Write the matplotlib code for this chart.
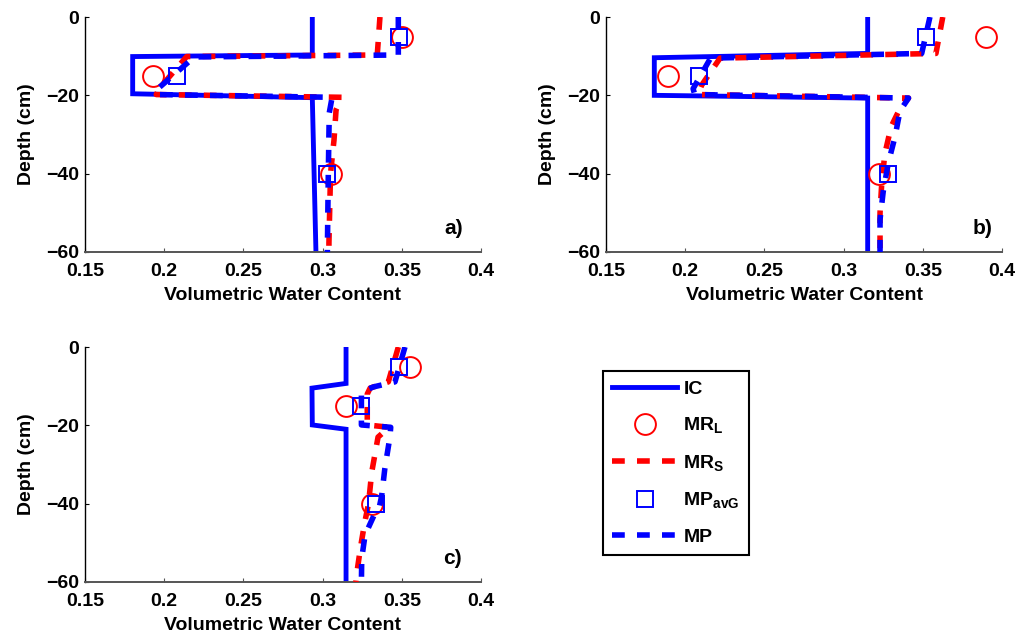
import matplotlib
matplotlib.use('Agg')
import matplotlib.pyplot as plt
from matplotlib.lines import Line2D

plt.rcParams['font.family'] = ['Liberation Sans', 'DejaVu Sans']
plt.rcParams['font.weight'] = 'bold'
plt.rcParams['mathtext.fontset'] = 'custom'
plt.rcParams['mathtext.rm'] = 'Liberation Sans:bold'
plt.rcParams['mathtext.bf'] = 'Liberation Sans:bold'
plt.rcParams['mathtext.it'] = 'Liberation Sans:bold'

# ---------------- data ----------------
marker_depth = [-5, -15, -40]

# panel a
ic_depth_a = [0, -9.7, -10.1, -19.6, -20.6, -60]
ic_a = [0.2935, 0.2935, 0.1801, 0.1801, 0.2935, 0.2958]
mrs_depth_a = [0, -8, -9.7, -10.1, -18.2, -19.8, -20.5, -23.7, -31.4, -40, -57.7, -60]
mrs_a = [0.3362, 0.3348, 0.3345, 0.2142, 0.197, 0.195, 0.312, 0.3085, 0.3072, 0.305, 0.304, 0.304]
mp_depth_a = [0, -9.7, -10.2, -18.2, -19.8, -20.5, -24.5, -40, -60]
mp_a = [0.3478, 0.3478, 0.219, 0.1963, 0.195, 0.306, 0.3042, 0.3036, 0.303]
mrl_a = [0.35, 0.1932, 0.305]
mpg_a = [0.348, 0.208, 0.303]

# panel b
ic_depth_b = [0, -9.3, -10.4, -20.0, -20.7, -60]
ic_b = [0.3152, 0.3152, 0.1805, 0.1805, 0.3152, 0.3152]
mrs_depth_b = [0, -9.3, -10.5, -17.4, -19.8, -20.7, -23, -28, -35, -43, -50, -60]
mrs_b = [0.3626, 0.3583, 0.222, 0.2104, 0.208, 0.341, 0.336, 0.330, 0.326, 0.324, 0.323, 0.323]
mp_depth_b = [0, -9.3, -10.5, -18.3, -19.8, -20.7, -24, -30.5, -37.3, -44.6, -51.7, -60]
mp_b = [0.3545, 0.3493, 0.216, 0.205, 0.206, 0.341, 0.3356, 0.3325, 0.3282, 0.325, 0.323, 0.323]
mrl_b = [0.39, 0.1893, 0.3225]
mpg_b = [0.352, 0.2087, 0.328]

# panel c
ic_depth_c = [0, -9.3, -10.5, -19.9, -21.0, -60]
ic_c = [0.3148, 0.3148, 0.2933, 0.2935, 0.3148, 0.3148]
mrs_depth_c = [0, -8.9, -10.5, -12, -19.9, -20.5, -23, -32, -40, -45, -51, -58, -60]
mrs_c = [0.3478, 0.3415, 0.330, 0.3282, 0.3282, 0.342, 0.335, 0.331, 0.329, 0.3265, 0.324, 0.3215, 0.321]
mp_depth_c = [0, -8.9, -10.2, -11.5, -19.9, -20.5, -23, -31, -38, -40.5, -42.5, -48, -54, -60]
mp_c = [0.352, 0.3457, 0.332, 0.3245, 0.3245, 0.343, 0.3425, 0.3393, 0.3373, 0.336, 0.333, 0.3268, 0.3247, 0.3245]
mrl_c = [0.355, 0.315, 0.331]
mpg_c = [0.348, 0.324, 0.3337]

x_ticks = [0.15, 0.2, 0.25, 0.3, 0.35, 0.4]
x_ticklabels = ['0.15', '0.2', '0.25', '0.3', '0.35', '0.4']
y_ticks = [-60, -40, -20, 0]
y_ticklabels = ['\u221260', '\u221240', '\u221220', '0']
series_labels = ['IC', r'MR$_{\mathrm{L}}$', r'MR$_{\mathrm{S}}$', r'MP$_{\mathrm{avG}}$', 'MP']
panel_labels = ['a)', 'b)', 'c)']

BLUE = '#0000ff'
RED = '#ff0000'
FS = 14
DASH = (2.3, 2.2)

fig = plt.figure(figsize=(10.29, 6.39), dpi=100)
W, H = 1029, 639

def add_ax(left, top, right, bottom):
    return fig.add_axes([left / W, 1 - bottom / H, (right - left) / W, (bottom - top) / H])

ax_a = add_ax(85, 17, 481, 252)
ax_b = add_ax(606, 17, 1002, 252)
ax_c = add_ax(85, 347, 481, 582)

panels = [
    (ax_a, ic_a, ic_depth_a, mrs_a, mrs_depth_a, mp_a, mp_depth_a, mrl_a, mpg_a, (0.932, 0.10)),
    (ax_b, ic_b, ic_depth_b, mrs_b, mrs_depth_b, mp_b, mp_depth_b, mrl_b, mpg_b, (0.951, 0.10)),
    (ax_c, ic_c, ic_depth_c, mrs_c, mrs_depth_c, mp_c, mp_depth_c, mrl_c, mpg_c, (0.929, 0.10)),
]

for (ax, ic, icd, mrs, mrsd, mp, mpd, mrl, mpg, lp), plab in zip(panels, panel_labels):
    ax.plot(ic, icd, color=BLUE, lw=3.5, solid_joinstyle='miter', zorder=2)
    ax.plot(mrl, marker_depth, linestyle='none', marker='o', ms=15, mfc='none',
            mec=RED, mew=1.4, zorder=3)
    ax.plot(mrs, mrsd, color=RED, lw=4, dashes=DASH, zorder=4)
    ax.plot(mpg, marker_depth, linestyle='none', marker='s', ms=12, mfc='none',
            mec=BLUE, mew=1.4, zorder=5)
    ax.plot(mp, mpd, color=BLUE, lw=4, dashes=DASH, zorder=6)

    ax.set_xlim(0.15, 0.4)
    ax.set_ylim(-60, 0)
    ax.set_xticks(x_ticks)
    ax.set_xticklabels(x_ticklabels)
    ax.set_yticks(y_ticks)
    ax.set_yticklabels(y_ticklabels)
    ax.spines['top'].set_visible(False)
    ax.spines['right'].set_visible(False)
    ax.spines['left'].set_color('black')
    ax.spines['left'].set_linewidth(1.0)
    ax.spines['bottom'].set_color('#555555')
    ax.spines['bottom'].set_linewidth(1.4)
    ax.tick_params(axis='both', direction='in', length=3, labelsize=FS)
    ax.tick_params(axis='x', color='#555555', pad=8)
    ax.tick_params(axis='y', pad=4)
    for t in ax.get_xticklabels() + ax.get_yticklabels():
        t.set_fontweight('bold')
    ax.set_xlabel('Volumetric Water Content', fontsize=FS, fontweight='bold', labelpad=5)
    ax.set_ylabel('Depth (cm)', fontsize=FS, fontweight='bold', labelpad=8)
    ax.text(lp[0], lp[1], plab, transform=ax.transAxes, fontsize=FS + 1,
            fontweight='bold', ha='center', va='center')
    ax.patch.set_visible(False)

handles = [
    Line2D([], [], color=BLUE, lw=3.5),
    Line2D([], [], linestyle='none', marker='o', ms=15, mfc='none', mec=RED, mew=1.4),
    Line2D([], [], color=RED, lw=4, dashes=DASH),
    Line2D([], [], linestyle='none', marker='s', ms=12, mfc='none', mec=BLUE, mew=1.4),
    Line2D([], [], color=BLUE, lw=4, dashes=DASH),
]
leg = fig.legend(handles, series_labels, loc='upper left',
                 bbox_to_anchor=(603 / W, 1 - 371 / H), borderaxespad=0,
                 fontsize=FS, frameon=True, fancybox=False, framealpha=1,
                 edgecolor='black', handlelength=3.35, handletextpad=0.3,
                 labelspacing=0.9, borderpad=0.48, numpoints=1)
leg.get_frame().set_linewidth(1.5)
for t in leg.get_texts():
    t.set_fontweight('bold')

fig.savefig('out.png', dpi=100)
